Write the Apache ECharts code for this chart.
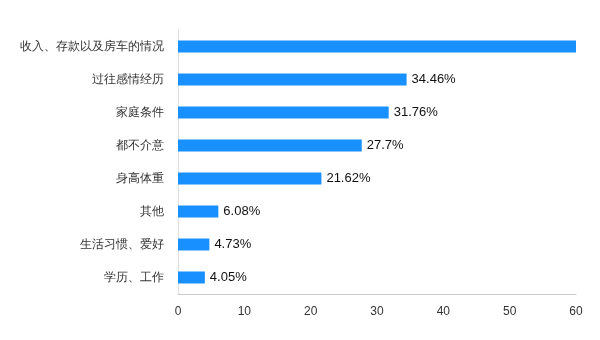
<!DOCTYPE html>
<html>
<head>
<meta charset="utf-8">
<script src="https://cdn.jsdelivr.net/npm/echarts@6/dist/echarts.min.js"></script>
<style>
html, body { margin: 0; padding: 0; background: #fff; }
#chart { width: 600px; height: 340px; }
</style>
</head>
<body>
<div id="chart"></div>
<script>
// 从下到上的类目顺序
var categories = ['学历、工作', '生活习惯、爱好', '其他', '身高体重', '都不介意', '家庭条件', '过往感情经历', '收入、存款以及房车的情况'];
var values = [4.05, 4.73, 6.08, 21.62, 27.7, 31.76, 34.46, 64.19];
var xTicks = [0, 10, 20, 30, 40, 50, 60];

var chart = echarts.init(document.getElementById('chart'));

var option = {
    animation: false,
    grid: {
        left: 178,
        right: 24,
        top: 30,
        bottom: 46
    },
    xAxis: {
        type: 'value',
        min: xTicks[0],
        max: xTicks[xTicks.length - 1],
        interval: 10,
        axisLine: { show: true, lineStyle: { color: '#ccc' } },
        axisTick: { show: false },
        splitLine: { show: false },
        axisLabel: { color: '#333', fontSize: 12, margin: 12 }
    },
    yAxis: {
        type: 'category',
        data: categories,
        axisLine: { show: true, lineStyle: { color: '#ddd' } },
        axisTick: { show: false },
        axisLabel: { color: '#333', fontSize: 12, margin: 14 }
    },
    series: [
        {
            type: 'bar',
            data: values,
            barWidth: 12,
            itemStyle: { color: '#1890ff' },
            label: {
                show: true,
                position: 'right',
                distance: 5,
                color: '#111',
                fontSize: 13,
                formatter: function (p) {
                    // 第一项超出坐标轴，标签在图中被遮住
                    return p.value > xTicks[xTicks.length - 1] ? '' : p.value + '%';
                }
            }
        }
    ]
};

chart.setOption(option);
</script>
</body>
</html>
